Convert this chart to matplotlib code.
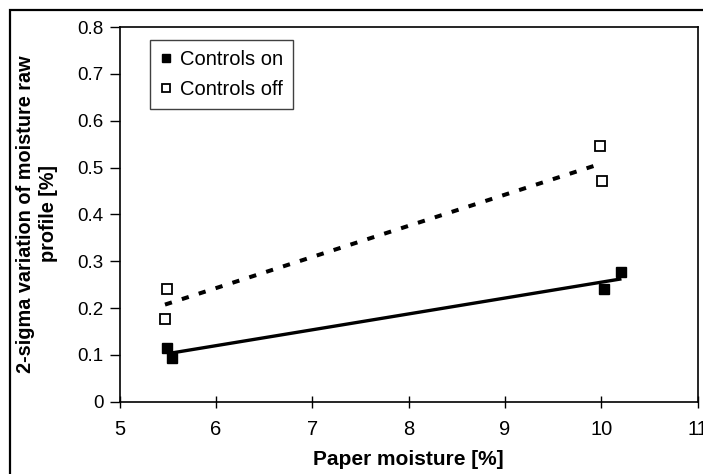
import numpy as np
import matplotlib
matplotlib.use("Agg")
import matplotlib.pyplot as plt
from matplotlib.patches import Rectangle

plt.rcParams['font.family'] = ['Liberation Sans', 'DejaVu Sans']

moisture_on = [5.49, 5.54, 10.03, 10.21]
sigma_on = [0.114, 0.093, 0.240, 0.278]
moisture_off = [5.49, 5.47, 9.99, 10.01]
sigma_off = [0.240, 0.176, 0.546, 0.471]

x_ticks = [5, 6, 7, 8, 9, 10, 11]
y_ticks = [0, 0.1, 0.2, 0.3, 0.4, 0.5, 0.6, 0.7, 0.8]
y_tick_labels = ['0', '0.1', '0.2', '0.3', '0.4', '0.5', '0.6', '0.7', '0.8']


def trend(x, y):
    """Lineare Trendlinie von min(x) bis max(x)."""
    k, d = np.polyfit(x, y, 1)
    xs = np.array([min(x), max(x)])
    return xs, k * xs + d


fig = plt.figure(figsize=(7.03, 4.74), dpi=100)
ax = fig.add_axes([0.1703, 0.1525, 0.8219, 0.7905])

# Rahmen um das ganze Diagramm
fig.patches.append(Rectangle((10 / 703, -0.1), 1.0, 1.1 - 10 / 474, transform=fig.transFigure,
                             fill=False, edgecolor='black', linewidth=1.6))

# Trendlinien
xs, ys = trend(moisture_on, sigma_on)
ax.plot(xs, ys, color='black', linewidth=2.4, solid_capstyle='butt')
xs, ys = trend(moisture_off, sigma_off)
ax.plot(xs, ys, color='black', linewidth=2.9, dashes=(1.8, 2.6), dash_capstyle='butt')

# Messpunkte
ax.plot(moisture_on, sigma_on, 's', color='black', markersize=7.5, label='Controls on')
ax.plot(moisture_off, sigma_off, 's', markerfacecolor='white', markeredgecolor='black',
        markersize=6.5, markeredgewidth=1.3, label='Controls off')

ax.set_xlim(5, 11)
ax.set_ylim(0, 0.8)
ax.set_xticks(x_ticks)
ax.set_yticks(y_ticks)
ax.set_yticklabels(y_tick_labels)
ax.tick_params(axis='x', direction='inout', length=9, width=1, labelsize=14.5, pad=9)
ax.tick_params(axis='y', direction='out', length=7.5, width=1, labelsize=13.5, pad=4)
for s in ax.spines.values():
    s.set_linewidth(1.2)
    s.set_color('black')

ax.set_xlabel('Paper moisture [%]', fontsize=15, fontweight='bold')
ax.xaxis.label.set_va('baseline')
ax.xaxis.set_label_coords(0.5, -0.169)

fig.text(37 / 703, 1 - 214 / 474, '2-sigma variation of moisture raw\nprofile [%]',
         rotation=90, ha='center', va='center', multialignment='center',
         fontsize=14.3, fontweight='bold', linespacing=1.25)

leg = ax.legend(loc='upper left', bbox_to_anchor=(0.0524, 0.9653), fontsize=14.5,
                frameon=True, fancybox=False, edgecolor='#404040', framealpha=1,
                handlelength=0.6, handletextpad=0.4, borderpad=0.5, labelspacing=0.55,
                markerscale=0.8, borderaxespad=0)
leg.get_frame().set_linewidth(1.0)

fig.savefig('out.png', dpi=100)
